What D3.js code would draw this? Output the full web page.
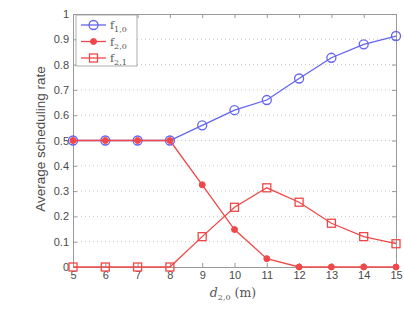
<!DOCTYPE html>
<html><head><meta charset="utf-8">
<script src="https://cdn.jsdelivr.net/npm/d3@7"></script>
<style>body{margin:0;background:#fff}</style>
</head><body>
<svg id="c" width="404" height="316"></svg>
<script>
const xValues = [5,6,7,8,9,10,11,12,13,14,15];
const f10 = [0.5,0.5,0.5,0.5,0.56,0.62,0.66,0.745,0.827,0.88,0.913];
const f20 = [0.5,0.5,0.5,0.5,0.325,0.148,0.033,0,0,0,0];
const f21 = [0,0,0,0,0.12,0.236,0.313,0.256,0.173,0.12,0.092];
const yTicks = [0,0.1,0.2,0.3,0.4,0.5,0.6,0.7,0.8,0.9,1];
const yTickLabels = ["0","0.1","0.2","0.3","0.4","0.5","0.6","0.7","0.8","0.9","1"];
const seriesNames = ["f1,0","f2,0","f2,1"];

const blue = "#6464ee", red = "#f04848";
const svg = d3.select("#c");
const L=73,R=396,T=14,B=267;
const x = d3.scaleLinear().domain([5,15]).range([L,R]);
const y = d3.scaleLinear().domain([0,1]).range([B,T]);

// grid
svg.append("g").selectAll("line").data(yTicks.slice(1,-1)).join("line")
  .attr("x1",L).attr("x2",R).attr("y1",d=>y(d)).attr("y2",d=>y(d))
  .attr("stroke","#c8c8c8").attr("stroke-dasharray","1,3").attr("stroke-width",1);

// axes
const xb = d3.axisBottom(x).tickValues(xValues).tickSize(-4).tickPadding(4).tickFormat(d3.format("d"));
svg.append("g").attr("transform",`translate(0,${B})`).call(xb);
const yl = d3.axisLeft(y).tickValues(yTicks).tickSize(-4).tickPadding(4).tickFormat((d,i)=>yTickLabels[i]);
svg.append("g").attr("transform",`translate(${L},0)`).call(yl);
const xt = d3.axisTop(x).tickValues(xValues).tickSize(-4).tickFormat("");
svg.append("g").attr("transform",`translate(0,${T})`).call(xt);
const yr = d3.axisRight(y).tickValues(yTicks).tickSize(-4).tickFormat("");
svg.append("g").attr("transform",`translate(${R},0)`).call(yr);
svg.selectAll(".domain").attr("stroke","#999");
svg.selectAll(".tick line").attr("stroke","#999");
svg.selectAll(".tick text").attr("fill","#4a4a4a").attr("font-size",11).attr("font-family","Liberation Sans, Arial, sans-serif");

// lines
const line = d3.line().x((d,i)=>x(xValues[i])).y(d=>y(d));
const series = [
  {vals:f10,color:blue,marker:"circle"},
  {vals:f20,color:red,marker:"dot"},
  {vals:f21,color:red,marker:"square"}
];
function drawMarker(g,type,cx,cy,color){
  if(type==="circle") g.append("circle").attr("cx",cx).attr("cy",cy).attr("r",4.5).attr("fill","none").attr("stroke",color).attr("stroke-width",1.3);
  else if(type==="dot") g.append("circle").attr("cx",cx).attr("cy",cy).attr("r",3).attr("fill",color).attr("stroke",color);
  else g.append("rect").attr("x",cx-4).attr("y",cy-4).attr("width",8).attr("height",8).attr("fill","none").attr("stroke",color).attr("stroke-width",1.3);
}
series.forEach(s=>{
  svg.append("path").attr("d",line(s.vals)).attr("fill","none").attr("stroke",s.color).attr("stroke-width",1.3);
  const g = svg.append("g");
  s.vals.forEach((v,i)=>drawMarker(g,s.marker,x(xValues[i]),y(v),s.color));
});

// legend
const lg = svg.append("g");
lg.append("rect").attr("x",76).attr("y",15).attr("width",61).attr("height",51).attr("fill","#fff").attr("stroke","#999").attr("stroke-width",0.8);
series.forEach((s,i)=>{
  const yy = 25 + i*16.5;
  lg.append("line").attr("x1",81).attr("x2",106).attr("y1",yy).attr("y2",yy).attr("stroke",s.color).attr("stroke-width",1.3);
  drawMarker(lg,s.marker,93.5,yy,s.color);
  const t = lg.append("text").attr("x",110).attr("y",yy+4).attr("font-family","DejaVu Serif, serif").attr("font-size",11).attr("fill","#555");
  t.append("tspan").text("f");
  t.append("tspan").attr("dy",3).attr("font-size",8).text(seriesNames[i].slice(1));
});

// axis labels
svg.append("text").attr("transform","translate(45,139) rotate(-90)").attr("text-anchor","middle")
  .attr("font-family","Liberation Sans, Arial, sans-serif").attr("font-size",13.5).attr("fill","#4a4a4a").text("Average scheduling rate");
const xl = svg.append("text").attr("x",233).attr("y",297).attr("text-anchor","middle")
  .attr("font-family","DejaVu Serif, serif").attr("font-size",12.5).attr("fill","#555");
xl.append("tspan").attr("font-style","italic").text("d");
xl.append("tspan").attr("dy",3).attr("font-size",8).text("2,0");
xl.append("tspan").attr("dy",-3).text(" (m)");
</script>
</body></html>
